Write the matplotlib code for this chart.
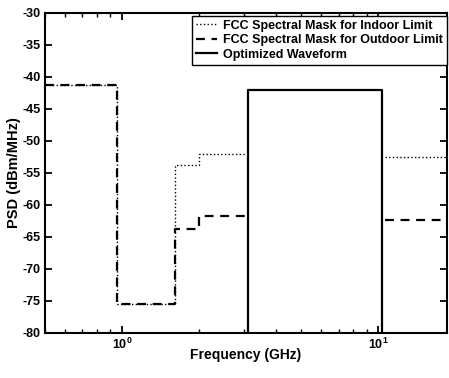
import numpy as np
import matplotlib
matplotlib.use('Agg')
import matplotlib.pyplot as plt

# FCC 频谱掩模 (dBm/MHz)，读图估计
mask_freq = [0.5, 0.96, 1.61, 1.99, 3.1]
indoor_db = [-41.3, -75.5, -53.8, -52.0, -52.0]
outdoor_db = [-41.3, -75.5, -63.8, -61.8, -61.8]
right_freq = [10.6, 20.0]
indoor_right_db = [-52.6, -52.6]
outdoor_right_db = [-62.4, -62.4]

# 优化波形
wave_freq = [3.1, 3.1, 10.3, 10.3]
wave_db = [-80, -42.0, -42.0, -80]

plt.rcParams['font.family'] = ['Liberation Sans', 'DejaVu Sans']
plt.rcParams['font.weight'] = 'bold'
plt.rcParams['axes.unicode_minus'] = False
plt.rcParams['mathtext.default'] = 'bf'

fig = plt.figure(figsize=(4.49, 3.78), dpi=100)
ax = fig.add_axes([0.1, 0.12, 0.895, 0.846])

ax.step(mask_freq, indoor_db, where='post', color='k', ls=':', lw=1.0,
        label='FCC Spectral Mask for Indoor Limit')
ax.step(mask_freq, outdoor_db, where='post', color='k', ls=(0, (4, 3)), lw=1.6,
        label='FCC Spectral Mask for Outdoor Limit')
ax.plot(wave_freq, wave_db, color='k', lw=1.6, label='Optimized Waveform')
ax.plot(right_freq, indoor_right_db, color='k', ls=':', lw=1.0)
ax.plot(right_freq, outdoor_right_db, color='k', ls=(0, (4, 3)), lw=1.6)

ax.set_xscale('log')
ax.set_xlim(0.5, 18.5)
ax.set_ylim(-80, -30)
ax.set_yticks(np.arange(-80, -29, 5))

for s in ax.spines.values():
    s.set_linewidth(1.5)
ax.tick_params(which='both', direction='in', top=True, right=True, labelsize=9)
ax.tick_params(which='major', length=5, width=1.3, pad=3)
ax.tick_params(which='minor', length=3, width=1.0)

ax.set_xlabel('Frequency (GHz)', fontsize=10, fontweight='bold', labelpad=-3)
ax.set_ylabel('PSD (dBm/MHz)', fontsize=10.5, fontweight='bold', labelpad=1)

leg = ax.legend(loc='upper right', bbox_to_anchor=(1.0, 0.99), borderaxespad=0,
                fontsize=9, handlelength=1.7, handletextpad=0.5,
                labelspacing=0.2, borderpad=0.3, fancybox=False, framealpha=1)
leg.get_frame().set_edgecolor('k')
leg.get_frame().set_linewidth(1.0)

fig.savefig('out.png', dpi=100)
